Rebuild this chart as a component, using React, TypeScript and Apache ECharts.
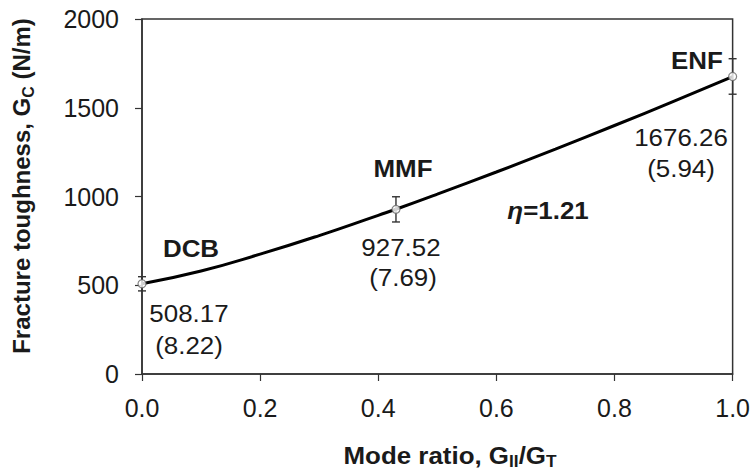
import React, { useEffect, useRef } from "react";
import * as echarts from "echarts";

// B-K fit curve
const curveRatio = [0, 0.1, 0.2, 0.3, 0.4, 0.43, 0.5, 0.6, 0.7, 0.8, 0.9, 1.0];
const curveValues = [508, 580, 675, 780, 894, 928, 1013, 1138, 1267, 1400, 1536, 1676];

// Test results
const testNames = ["DCB", "MMF", "ENF"];
const testRatio = [0, 0.43, 1.0];
const testMean = [508.17, 927.52, 1676.26];
const testCov = ["8.22", "7.69", "5.94"];
const testErr = [40, 71, 100];

const xTicks = [0, 0.2, 0.4, 0.6, 0.8, 1.0];
const yTicks = [0, 500, 1000, 1500, 2000];

const FONT = "Liberation Sans, Arial, Helvetica, sans-serif";
const INK = "#1a1a1a";
const SX = 1.08;

export default function App() {
  const ref = useRef<HTMLDivElement>(null);
  useEffect(() => {
    if (!ref.current) return;
    const chart = echarts.init(ref.current, null, { renderer: "svg" });
    const curve = curveRatio.map((x, i) => [x, curveValues[i]]);
    const pts = testRatio.map((x, i) => [x, testMean[i]]);
    const errs = testRatio.map((x, i) => [x, testMean[i] - testErr[i], testMean[i] + testErr[i]]);

    const txt = (text: string, x: number, y: number, bold: boolean) => ({
      type: "text",
      x,
      y,
      scaleX: SX,
      style: {
        text,
        x: 0,
        y: 0,
        font: `${bold ? "bold " : ""}24px ${FONT}`,
        fill: INK,
        textAlign: "center",
        textVerticalAlign: "middle",
      },
    });
    const namePos = [[191, 248], [403, 168], [697, 60]];
    const valPos = [[189, 313], [401, 247], [681, 137]];
    const covPos = [[189, 345], [403, 277], [681, 168]];
    const graphics: any[] = [];
    testNames.forEach((n, i) => {
      graphics.push(txt(n, namePos[i][0], namePos[i][1], true));
      graphics.push(txt(testMean[i].toFixed(2), valPos[i][0], valPos[i][1], false));
      graphics.push(txt(`(${testCov[i]})`, covPos[i][0], covPos[i][1], false));
    });
    graphics.push({
      type: "text",
      x: 548,
      y: 210,
      scaleX: SX,
      style: {
        text: "{e|η}{b|=1.21}",
        x: 0,
        y: 0,
        textAlign: "center",
        textVerticalAlign: "middle",
        rich: {
          e: { font: `italic bold 24px ${FONT}`, fill: INK },
          b: { font: `bold 24px ${FONT}`, fill: INK },
        },
      },
    });
    graphics.push({
      type: "text",
      x: 450,
      y: 455,
      scaleX: SX,
      style: {
        text: "{m|Mode ratio, G}{s|II}{m|/G}{s|T}",
        x: 0,
        y: 0,
        textAlign: "center",
        textVerticalAlign: "middle",
        rich: {
          m: { font: `bold 24px ${FONT}`, fill: INK, lineHeight: 30, verticalAlign: "middle" },
          s: { font: `bold 16px ${FONT}`, fill: INK, lineHeight: 30, verticalAlign: "bottom" },
        },
      },
    });
    graphics.push({
      type: "text",
      rotation: Math.PI / 2,
      x: 21,
      y: 186,
      style: {
        text: "{m|Fracture toughness, G}{s|C}{m| (N/m)}",
        x: 0,
        y: 0,
        textAlign: "center",
        textVerticalAlign: "middle",
        rich: {
          m: { font: `bold 24px ${FONT}`, fill: INK, lineHeight: 30, verticalAlign: "middle" },
          s: { font: `bold 16px ${FONT}`, fill: INK, lineHeight: 30, verticalAlign: "bottom" },
        },
      },
    });

    chart.setOption({
      animation: false,
      backgroundColor: "#ffffff",
      grid: {
        left: 142,
        right: 16,
        top: 19,
        bottom: 101,
        show: true,
        borderColor: "#333",
        borderWidth: 1.5,
        backgroundColor: "transparent",
      },
      xAxis: {
        type: "value",
        min: 0,
        max: 1,
        interval: 0.2,
        splitLine: { show: false },
        axisLine: { lineStyle: { color: "#333", width: 1.5 } },
        axisTick: { show: true, length: 7, lineStyle: { color: "#333", width: 1.2 } },
        axisLabel: {
          margin: 21,
          color: INK,
          fontFamily: FONT,
          fontSize: 25,
          formatter: (v: number) => (xTicks.some((t) => Math.abs(t - v) < 1e-9) ? v.toFixed(1) : ""),
        },
      },
      yAxis: {
        type: "value",
        min: 0,
        max: 2000,
        interval: 500,
        splitLine: { show: false },
        axisLine: { show: true, lineStyle: { color: "#333", width: 1.5 } },
        axisTick: { show: true, length: 7, lineStyle: { color: "#333", width: 1.2 } },
        axisLabel: {
          margin: 23,
          color: INK,
          fontFamily: FONT,
          fontSize: 25,
          formatter: (v: number) => (yTicks.includes(v) ? String(v) : ""),
        },
      },
      series: [
        {
          type: "line",
          data: curve,
          smooth: true,
          showSymbol: false,
          lineStyle: { color: "#000", width: 3 },
          z: 2,
        },
        {
          type: "custom",
          data: errs,
          z: 3,
          renderItem: (params: any, api: any) => {
            const x = api.value(0);
            const lo = api.coord([x, api.value(1)]);
            const hi = api.coord([x, api.value(2)]);
            const cap = 4;
            const st = { stroke: "#333", lineWidth: 1.4 };
            return {
              type: "group",
              children: [
                { type: "line", shape: { x1: lo[0], y1: lo[1], x2: hi[0], y2: hi[1] }, style: st },
                { type: "line", shape: { x1: lo[0] - cap, y1: lo[1], x2: lo[0] + cap, y2: lo[1] }, style: st },
                { type: "line", shape: { x1: hi[0] - cap, y1: hi[1], x2: hi[0] + cap, y2: hi[1] }, style: st },
              ],
            };
          },
        },
        {
          type: "scatter",
          data: pts,
          symbol: "circle",
          symbolSize: 8,
          itemStyle: { color: "#fff", borderColor: "#666", borderWidth: 1.2 },
          z: 4,
        },
      ],
      graphic: graphics,
    });
    return () => chart.dispose();
  }, []);
  return (
    <div
      ref={ref}
      style={{ position: "fixed", left: 0, top: 0, width: 753, height: 475, background: "#fff" }}
    />
  );
}
